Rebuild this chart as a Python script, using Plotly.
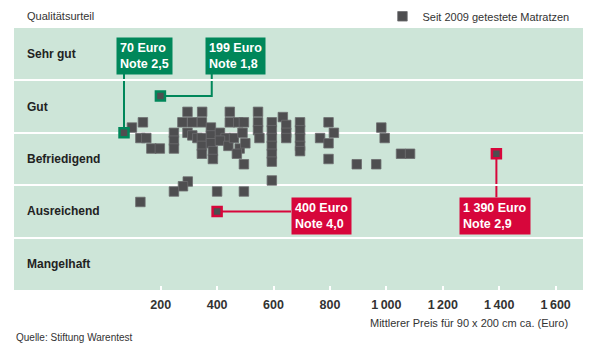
import plotly.graph_objects as go

# ---------------- data ----------------
grades = ["Sehr gut", "Gut", "Befriedigend", "Ausreichend", "Mangelhaft"]
grade_pos = [1, 2, 3, 4, 5]

price = [98, 137, 128, 149, 167, 197,
         247, 247, 247,
         295, 347,
         277, 312, 346,
         295, 312, 330, 346,
         346, 346,
         378, 378, 378, 385, 385,
         445, 445, 475, 495,
         410, 430, 410, 440, 460, 490, 480, 470, 500, 495,
         545, 545, 545, 550,
         594, 594, 594, 594, 594, 594,
         633, 645, 645, 645,
         694, 694, 694, 694, 694,
         795, 814, 765, 795, 795,
         895, 964, 982, 994, 1052, 1084,
         296, 279, 247, 400, 495, 594, 128]
note = [2.4, 2.3, 2.6, 2.6, 2.8, 2.8,
        2.5, 2.65, 2.8,
        2.1, 2.1,
        2.3, 2.3, 2.3,
        2.5, 2.55, 2.6, 2.6,
        2.75, 2.9,
        2.4, 2.55, 2.7, 2.85, 3.0,
        2.1, 2.3, 2.3, 2.3,
        2.5, 2.6, 2.65, 2.75, 2.6, 2.5, 2.8, 2.9, 2.7, 3.1,
        2.1, 2.3, 2.45, 2.6,
        2.3, 2.45, 2.6, 2.75, 2.9, 3.05,
        2.2, 2.35, 2.5, 2.6,
        2.3, 2.45, 2.6, 2.75, 2.85,
        2.3, 2.5, 2.6, 2.7, 3.0,
        3.1, 3.1, 2.4, 2.6, 2.9, 2.9,
        3.43, 3.52, 3.62, 3.62, 3.62, 3.41, 3.82]

hl_green_price = [70, 199]
hl_green_note = [2.5, 1.8]
hl_green_text = ["70 Euro<br>Note 2,5", "199 Euro<br>Note 1,8"]
hl_red_price = [400, 1390]
hl_red_note = [4.0, 2.9]
hl_red_text = ["400 Euro<br>Note 4,0", "1 390 Euro<br>Note 2,9"]

tick_vals = [200, 400, 600, 800, 1000, 1200, 1400, 1600]
tick_text = ["200", "400", "600", "800", "1\u2009000", "1\u2009200", "1\u2009400", "1\u2009600"]

# ---------------- styles ----------------
MINT = "#cde5d8"
GRAY = "#4e4e50"
GREEN = "#00875a"
RED = "#d7063b"
FONT = "Liberation Sans, Arial, sans-serif"

fig = go.Figure()

fig.add_trace(go.Scatter(
    x=price, y=note, mode="markers", name="Seit 2009 getestete Matratzen",
    marker=dict(symbol="square", size=9.5, color=GRAY,
                line=dict(color="#6c6c6e", width=0.8)),
    hoverinfo="x+y"))

fig.add_trace(go.Scatter(
    x=hl_green_price, y=hl_green_note, mode="markers", showlegend=False,
    marker=dict(symbol="square", size=9, color=GRAY, line=dict(color=GREEN, width=2.5))))
fig.add_trace(go.Scatter(
    x=hl_red_price, y=hl_red_note, mode="markers", showlegend=False,
    marker=dict(symbol="square", size=9, color=GRAY, line=dict(color=RED, width=2.5))))

# callout boxes (layout positions)
box_green = [dict(x=41, y=0.67), dict(x=357, y=0.67)]
box_red = [dict(x=662, y=3.73), dict(x=1257, y=3.73)]
box_green_bottom = 1.30

for b, t in zip(box_green, hl_green_text):
    fig.add_annotation(x=b["x"], y=b["y"], xref="x", yref="y", text=t, showarrow=False,
                       xanchor="left", yanchor="top", align="left", bgcolor=GREEN,
                       borderpad=3, font=dict(family=FONT, size=12.5, color="white", weight="bold"))
for b, t in zip(box_red, hl_red_text):
    fig.add_annotation(x=b["x"], y=b["y"], xref="x", yref="y", text=t, showarrow=False,
                       xanchor="left", yanchor="top", align="left", bgcolor=RED,
                       borderpad=3, font=dict(family=FONT, size=12.5, color="white", weight="bold"))

# connectors
line_g = dict(color=GREEN, width=2)
line_r = dict(color=RED, width=2)
fig.add_shape(type="line", x0=hl_green_price[0], y0=hl_green_note[0], x1=hl_green_price[0],
              y1=box_green_bottom, line=line_g, layer="below")
elbow_x = box_green[1]["x"] + 24
fig.add_shape(type="path",
              path=f"M {hl_green_price[1]},{hl_green_note[1]} L {elbow_x},{hl_green_note[1]} L {elbow_x},{box_green_bottom}",
              line=line_g, layer="below")
fig.add_shape(type="line", x0=hl_red_price[0], y0=hl_red_note[0], x1=box_red[0]["x"],
              y1=hl_red_note[0], line=line_r, layer="below")
fig.add_shape(type="line", x0=hl_red_price[1], y0=hl_red_note[1], x1=hl_red_price[1],
              y1=box_red[1]["y"], line=line_r, layer="below")

# grade labels
for g, p in zip(grades, grade_pos):
    fig.add_annotation(x=0.0193, y=p, xref="paper", yref="y", text=g, showarrow=False,
                       xanchor="left", yanchor="middle",
                       font=dict(family=FONT, size=12, color="#222222", weight="bold"))

fig.add_annotation(x=0.0193, y=1.046, xref="paper", yref="paper", text="Qualitätsurteil",
                   showarrow=False, xanchor="left", yanchor="middle",
                   font=dict(family=FONT, size=11, color="#333333"))
fig.add_annotation(x=0.977, y=-0.126, xref="paper", yref="paper",
                   text="Mittlerer Preis für 90 x 200 cm ca. (Euro)",
                   showarrow=False, xanchor="right", yanchor="middle",
                   font=dict(family=FONT, size=11, color="#333333"))
fig.add_annotation(x=0.0, y=-0.183, xref="paper", yref="paper",
                   text="Quelle: Stiftung Warentest",
                   showarrow=False, xanchor="left", yanchor="middle",
                   font=dict(family="Liberation Sans Narrow, Arial Narrow, sans-serif", size=10, color="#333333"))

fig.update_layout(
    width=600, height=351,
    margin=dict(l=14, r=17, t=28, b=61, autoexpand=False),
    paper_bgcolor="white", plot_bgcolor=MINT,
    font=dict(family=FONT, color="#333333"),
    showlegend=True,
    legend=dict(x=0.985, y=1.10, xanchor="right", yanchor="top", orientation="h",
                bgcolor="rgba(0,0,0,0)", font=dict(family=FONT, size=11, color="#333333"),
                itemwidth=30),
    xaxis=dict(range=[-320, 1697], tickvals=tick_vals, ticktext=tick_text,
               showgrid=False, zeroline=False, showline=False,
               ticks="inside", ticklen=4, tickcolor="white", tickwidth=1.5,
               ticklabelstandoff=5,
               tickfont=dict(family=FONT, size=12.5, color="#333333", weight="bold")),
    yaxis=dict(range=[5.5, 0.5], tickvals=[1.5, 2.5, 3.5, 4.5], showticklabels=False,
               showgrid=True, gridcolor="white", gridwidth=2, zeroline=False, showline=False,
               ticks=""),
)

fig.write_html("out.html")
